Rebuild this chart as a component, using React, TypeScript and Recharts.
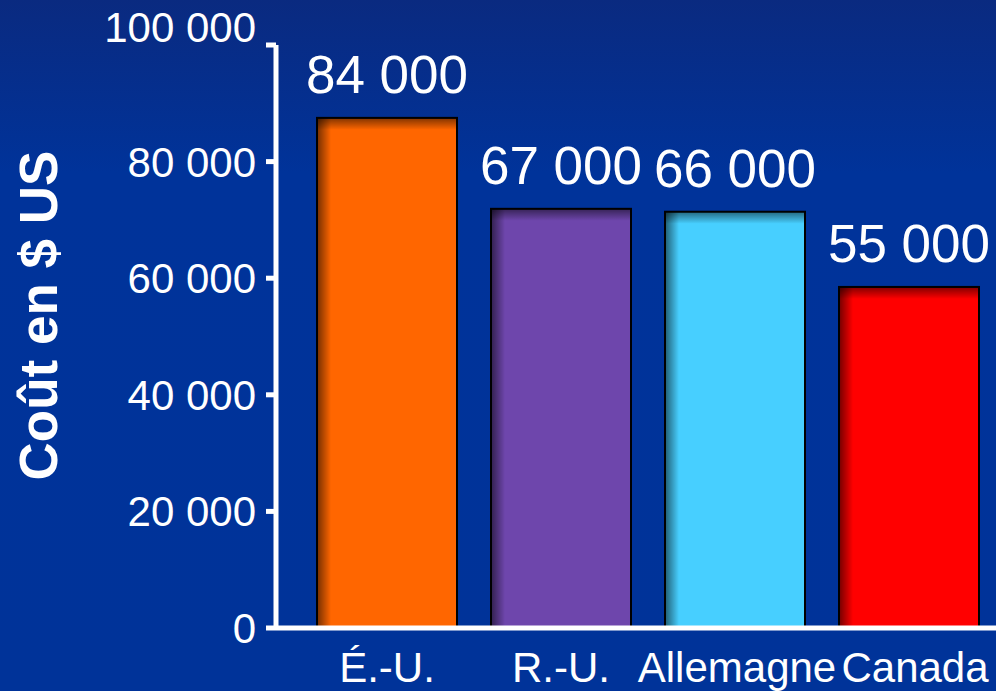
import { BarChart, Bar, XAxis, YAxis, Cell, LabelList } from 'recharts';

// values
const countries = ['É.-U.', 'R.-U.', 'Allemagne', 'Canada'];
const barValues = [87500, 71900, 71400, 58500];
const printedCosts = ['84 000', '67 000', '66 000', '55 000'];
const barColors = ['#FF6600', '#6E46AC', '#47CFFF', '#FF0000'];
const yTicks = [0, 20000, 40000, 60000, 80000, 100000];

const FONT = '"Liberation Sans", Arial, sans-serif';

const chartData = countries.map((name, i) => ({
  name,
  value: barValues[i],
  label: printedCosts[i],
}));

const fmt = (v: number) => (v === 0 ? '0' : `${Math.round(v / 1000)} 000`);

const ShadedBar = (props: any) => {
  const { x, y, width, height, fill } = props;
  if (!height || height <= 0) return null;
  return (
    <g>
      <rect x={x} y={y} width={width} height={height} fill={fill} />
      <rect x={x} y={y} width={14} height={height} fill="url(#shadeLeft)" />
      <rect x={x} y={y} width={width} height={12} fill="url(#shadeTop)" />
      <rect x={x} y={y} width={width} height={height} fill="none" stroke="#000" strokeWidth={2} />
    </g>
  );
};

const YTick = (props: any) => {
  const { x, y, payload } = props;
  const shift = payload.value === 100000 ? -18 : 0;
  return (
    <text x={x} y={y + shift} dy="0.355em" textAnchor="end" fill="#fff" fontSize={42} fontFamily={FONT}>
      {fmt(payload.value)}
    </text>
  );
};

const XTick = (props: any) => {
  const { x, y, payload, index } = props;
  // small nudge so "Allemagne" and "Canada" don't run together
  const nudge = index === 3 ? 6 : index === 2 ? 2 : 0;
  return (
    <text x={x + nudge} y={y} dy="0.71em" textAnchor="middle" fill="#fff" fontSize={42} fontFamily={FONT}>
      {payload.value}
    </text>
  );
};

const App = () => {
  return (
    <div
      style={{
        position: 'fixed',
        left: 0,
        top: 0,
        width: 996,
        height: 691,
        overflow: 'hidden',
        background: 'linear-gradient(to bottom, #0a2a80 0%, #00339a 25%, #003399 100%)',
      }}
    >
      <BarChart
        width={996}
        height={691}
        data={chartData}
        margin={{ top: 45, right: 0, bottom: 0, left: 0 }}
        barSize={140}
      >
        <defs>
          <linearGradient id="shadeLeft" x1="0" y1="0" x2="1" y2="0">
            <stop offset="0%" stopColor="#000" stopOpacity={0.55} />
            <stop offset="100%" stopColor="#000" stopOpacity={0} />
          </linearGradient>
          <linearGradient id="shadeTop" x1="0" y1="0" x2="0" y2="1">
            <stop offset="0%" stopColor="#000" stopOpacity={0.5} />
            <stop offset="100%" stopColor="#000" stopOpacity={0} />
          </linearGradient>
        </defs>
        <XAxis
          dataKey="name"
          height={63}
          padding={{ left: 24, right: 0 }}
          axisLine={{ stroke: '#fff', strokeWidth: 5 }}
          tickLine={false}
          tickSize={0}
          tickMargin={24}
          interval={0}
          tick={<XTick />}
        />
        <YAxis
          width={276}
          domain={[0, 100000]}
          ticks={yTicks}
          interval={0}
          axisLine={{ stroke: '#fff', strokeWidth: 5 }}
          tickLine={{ stroke: '#fff', strokeWidth: 5 }}
          tickSize={10}
          tickMargin={10}
          tick={<YTick />}
          label={(p: any) => {
            const vb = p.viewBox;
            const cx = vb.x + 38;
            const cy = vb.y + vb.height / 2 - 21;
            return (
              <text
                x={cx}
                y={cy}
                transform={`rotate(-90 ${cx} ${cy})`}
                textAnchor="middle"
                dominantBaseline="central"
                fill="#fff"
                fontSize={53}
                fontWeight="bold"
                fontFamily={FONT}
              >
                Coût en $ US
              </text>
            );
          }}
        />
        <Bar dataKey="value" shape={<ShadedBar />} isAnimationActive={false}>
          {chartData.map((d, i) => (
            <Cell key={d.name} fill={barColors[i]} />
          ))}
          <LabelList
            dataKey="label"
            position="top"
            offset={25}
            fill="#fff"
            fontSize={53}
            fontFamily={FONT}
          />
        </Bar>
      </BarChart>
    </div>
  );
};

export default App;
